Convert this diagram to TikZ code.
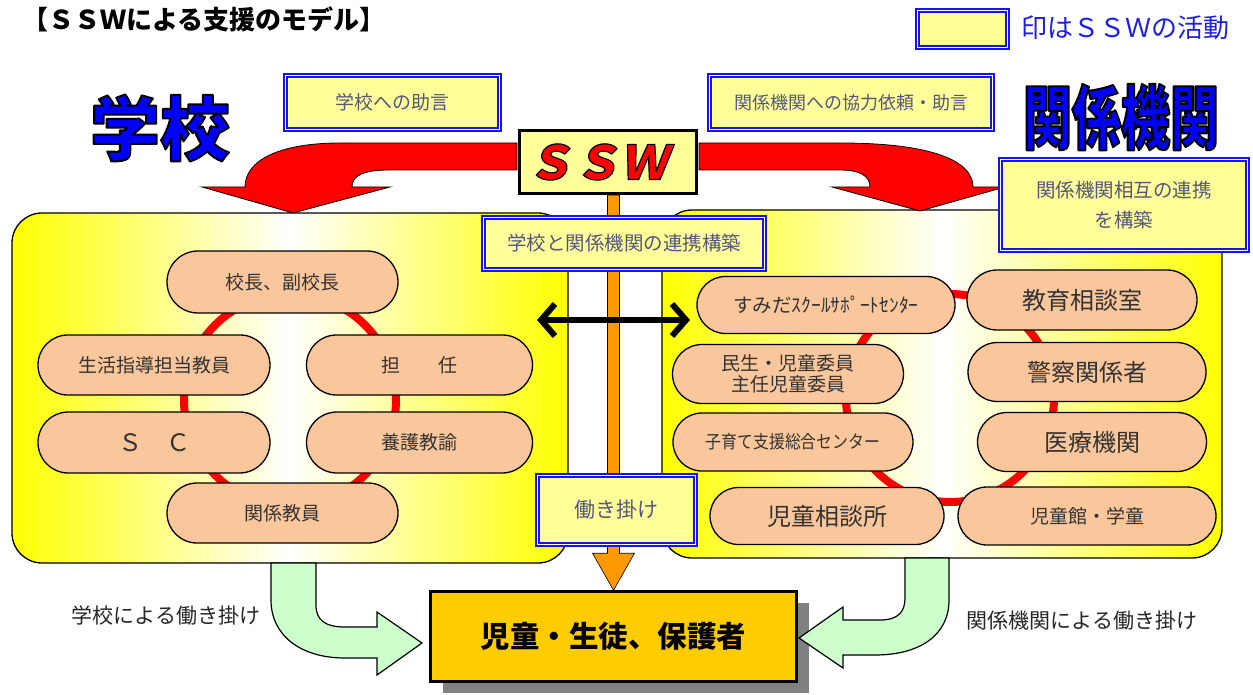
\documentclass[tikz,border=0pt]{standalone}
\usepackage{fontspec}
\setmainfont{Noto Sans CJK JP}
\newfontfamily\jpcond{Noto Sans CJK JP}[FakeStretch=0.7]
\newfontfamily\jpnarrow{Noto Sans CJK JP}[FakeStretch=0.88]
\newfontfamily\jpslant{Noto Sans CJK JP}[FakeSlant=0.2]
\usetikzlibrary{shapes.misc,shadows,calc,arrows.meta}
\definecolor{sswyellow}{RGB}{255,255,153}
\definecolor{boxblue}{RGB}{20,20,235}
\definecolor{boxtext}{RGB}{85,85,125}
\definecolor{peach}{RGB}{250,198,155}
\definecolor{ringred}{RGB}{255,0,0}
\definecolor{arrred}{RGB}{255,0,0}
\definecolor{lgreen}{RGB}{204,255,204}
\definecolor{goldbox}{RGB}{255,204,0}
\definecolor{orangec}{RGB}{255,153,0}
\definecolor{titleblue}{RGB}{0,0,255}
\definecolor{legblue}{RGB}{30,30,230}
\newcommand\outl[2]{\special{pdf:literal direct #1 w 1 j 0 0 0 RG 2 Tr}#2\special{pdf:literal direct 0 Tr}}
\newcommand\fsz[1]{\fontsize{#1pt}{1.2\dimexpr#1pt\relax}\selectfont}
\begin{document}
\begin{tikzpicture}[x=1pt,y=-1pt,
  font=\fsz{19},
  panel/.style={draw=black,line width=1.3pt,rounded corners=30pt,left color=yellow,right color=yellow,middle color=white,inner sep=0pt},
  pill/.style={rounded rectangle,draw=black,line width=1.3pt,fill=peach,inner sep=0pt,text=black!80,align=center},
  sswbox/.style={draw=boxblue,double=white,double distance=1.8pt,line width=1.6pt,fill=sswyellow,inner sep=0pt,text=boxtext,align=center},
  ring/.style={draw=ringred,line width=8pt},
  sz/.style 2 args={minimum width=#1pt,minimum height=#2pt},
  redarr/.style={fill=arrred,draw=black,line width=0.8pt},
  greenarr/.style={fill=lgreen,draw=black,line width=1.2pt},
  orangearr/.style={fill=orangec,draw=black,line width=0.6pt},
  dbl/.style={line width=6pt,>={Straight Barb[length=14pt,width=32pt]},<->},
]
\fill[white] (0,0) rectangle (1253,695);
\useasboundingbox (0,0) rectangle (1253,695);

% panels
\node[panel,sz={556}{350}] (lpanel) at (290,388) {};
\node[panel,sz={560}{348}] (rpanel) at (942,384) {};

% rings
\coordinate (lring) at (290,400);
\coordinate (rring) at (950,398);
\draw[ring] (lring) circle[radius=106pt];
\draw[ring] (rring) circle[radius=104pt];

% school pills
\node[pill,sz={231}{62}] (p1) at (282.5,282) {校長、副校長};
\node[pill,sz={232}{60}] (p2) at (154,365) {生活指導担当教員};
\node[pill,sz={226}{60}] (p3) at (419.5,365) {担　　任};
\node[pill,sz={232}{61},font=\fsz{24}] (p4) at (154,442.5) {Ｓ　Ｃ};
\node[pill,sz={226}{61}] (p5) at (419.5,442.5) {養護教諭};
\node[pill,sz={231}{60}] (p6) at (282.5,513) {関係教員};

% agency pills
\node[pill,sz={258}{57},font=\fsz{19.5}] (q1) at (826,305) {すみだｽｸｰﾙｻﾎﾟｰﾄｾﾝﾀｰ};
\node[pill,sz={230}{60},font=\fsz{24}] (q2) at (1082,300) {教育相談室};
\node[pill,sz={231}{59},font=\fontsize{19pt}{21pt}\selectfont] (q3) at (788,374) {民生・児童委員\\主任児童委員};
\node[pill,sz={238}{59},font=\fsz{24}] (q4) at (1087,372) {警察関係者};
\node[pill,sz={240}{58},font=\jpnarrow\fsz{18}] (q5) at (793,442) {子育て支援総合センター};
\node[pill,sz={229}{59},font=\fsz{24}] (q6) at (1092,442) {医療機関};
\node[pill,sz={234}{57},font=\fsz{24}] (q7) at (827,516) {児童相談所};
\node[pill,sz={258}{58},font=\fsz{19}] (q8) at (1087,516) {児童館・学童};

% bottom box
\node[draw=black,line width=2.5pt,fill=goldbox,sz={366}{90},
  drop shadow={shadow xshift=12pt,shadow yshift=-11pt,fill=black!50,opacity=1},
  font=\bfseries\fsz{29.5}] (kids) at (613.5,636.5) {児童・生徒、保護者};

% orange arrow from SSW to children
\path (608,162) coordinate (sswc);
\draw[orangearr] ($(kids.north |- 0,195)+(-6,0)$) -- ($(kids.north |- 0,195)+(6,0)$)
  -- ($(kids.north)+(6,-37)$) -- ($(kids.north)+(21,-37)$) -- (kids.north)
  -- ($(kids.north)+(-21,-37)$) -- ($(kids.north)+(-6,-37)$) -- cycle;

% double-headed arrow between panels
\coordinate (da1) at (537,320);
\coordinate (da2) at (690,320);
\draw[dbl] (da1) -- (da2);

% red curved arrows
\draw[redarr] (517,143) -- (340,143) .. controls (280,143) and (245,160) .. (245,187)
  -- (202,187) -- (293,213) -- (390,187) -- (352,187)
  .. controls (352,176) and (362,170) .. (390,170) -- (517,170) -- cycle;
\draw[redarr] (699,143) -- (840,143) .. controls (930,143) and (973,160) .. (973,187)
  -- (1005,187) -- (920,211) -- (832,187) -- (870,187)
  .. controls (870,176) and (860,170) .. (840,170) -- (699,170) -- cycle;

% green U-turn arrows
\draw[greenarr] (271,563) -- (316,563) -- (316,605) .. controls (316,620) and (325,627) .. (345,627)
  -- (377,627) -- (377,612) -- (422,643) -- (377,675) -- (377,658) -- (345,658)
  .. controls (300,658) and (271,635) .. (271,600) -- cycle;
\draw[greenarr] (905,558) -- (949,558) -- (949,600) .. controls (949,635) and (920,655) .. (875,655)
  -- (843,655) -- (843,668) -- (799,638) -- (843,607) -- (843,620) -- (880,620)
  .. controls (898,620) and (905,612) .. (905,598) -- cycle;

% SSW activity boxes
\node[sswbox,sz={214}{54}] (adv1) at (392.5,102.5) {学校への助言};
\node[sswbox,sz={283}{54},font=\fsz{18}] (adv2) at (851,102.5) {関係機関への協力依頼・助言};
\node[sswbox,sz={281}{52},font=\fsz{19.5}] (link) at (624,243.5) {学校と関係機関の連携構築};
\node[sswbox,sz={247}{91},font=\fontsize{19.5pt}{30pt}\selectfont] (mutual) at (1124,205) {関係機関相互の連携\\を構築};
\node[sswbox,sz={158}{69},font=\fsz{21}] (work) at (616.5,510) {働き掛け};

% SSW box
\node[draw=black,line width=2.5pt,fill=sswyellow,sz={177}{63},inner sep=0pt,text=red,
  font=\jpslant\bfseries\fsz{47}] (ssw) at (sswc) {\outl{1.2}{ＳＳＷ}\kern22pt};

% labels
\node[text=black!85,font=\fsz{21}] (lschool) at (166,616) {学校による働き掛け};
\node[text=black!85,font=\fsz{21}] (lagency) at (1082,621) {関係機関による働き掛け};

% titles
\node[anchor=west,font=\bfseries\fsz{26}] (title) at (19,19) {【ＳＳＷによる支援のモデル】};
\node[sswbox,sz={90}{37}] (legend) at (962.5,29) {};
\node[anchor=west,text=legblue,font=\fsz{26}] (legtext) at (1018,28) {印はＳＳＷの活動};
\node[text=titleblue,font=\bfseries\fsz{70}] (school) at (160,128) {\outl{2}{学校}};
\node[text=titleblue,font=\jpcond\bfseries\fsz{70}] (agencies) at (1121,117) {\outl{2}{関係機関}};
\end{tikzpicture}
\end{document}
